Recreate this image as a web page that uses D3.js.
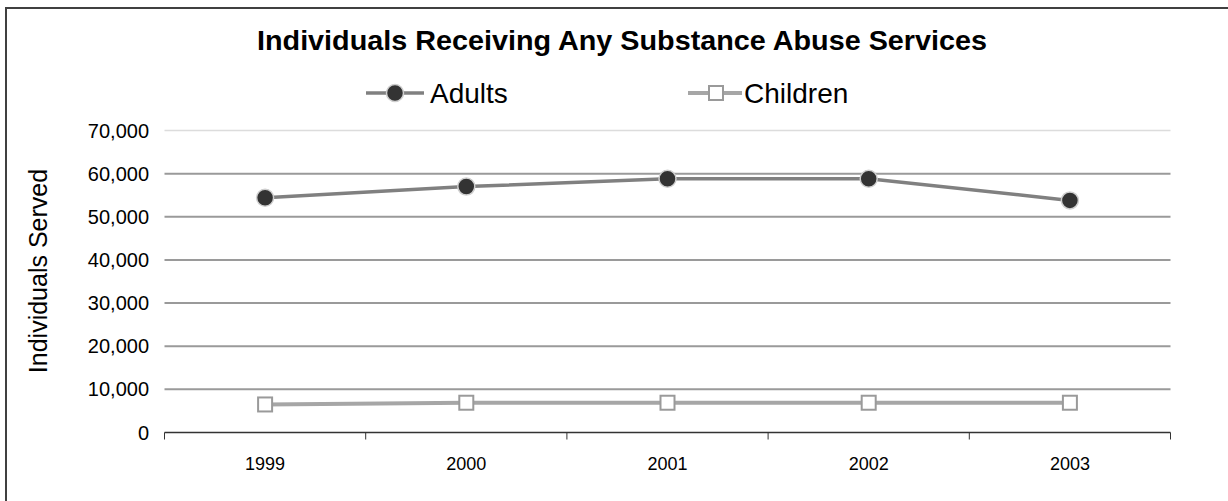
<!DOCTYPE html>
<html>
<head>
<meta charset="utf-8">
<script src="https://cdn.jsdelivr.net/npm/d3@7"></script>
<style>
  html, body { margin: 0; padding: 0; background: #fff; }
  svg { display: block; font-family: "Liberation Sans", Arial, sans-serif; }
</style>
</head>
<body>
<svg id="chart" width="1228" height="501"></svg>
<script>
// Chart data
const years = ["1999", "2000", "2001", "2002", "2003"];
const adults = [54400, 57000, 58800, 58800, 53800];
const children = [6500, 6900, 6900, 6900, 6900];
const yTicks = [0, 10000, 20000, 30000, 40000, 50000, 60000, 70000];

const svg = d3.select("#chart");

// Outer chart frame
svg.append("rect")
  .attr("x", 6).attr("y", 8)
  .attr("width", 1240).attr("height", 520)
  .attr("fill", "none").attr("stroke", "#404040").attr("stroke-width", 2);

const plot = { left: 164.5, right: 1170.5, top: 130.5, bottom: 432.5 };

const x = d3.scaleBand().domain(years).range([plot.left, plot.right]).padding(0);
const y = d3.scaleLinear().domain([0, 70000]).range([plot.bottom, plot.top]);
const cx = d => x(d) + x.bandwidth() / 2;

// Horizontal gridlines
svg.append("g").selectAll("line")
  .data(yTicks.filter(t => t > 0))
  .join("line")
  .attr("x1", plot.left).attr("x2", plot.right)
  .attr("y1", d => y(d)).attr("y2", d => y(d))
  .attr("stroke", d => d === 70000 ? "#dcdcdc" : "#9a9a9a")
  .attr("stroke-width", d => d === 70000 ? 1.5 : 2);

// Y axis tick labels
const fmt = d3.format(",");
svg.append("g").selectAll("text")
  .data(yTicks)
  .join("text")
  .attr("x", 149).attr("y", d => y(d))
  .attr("dy", "0.35em")
  .attr("text-anchor", "end")
  .attr("font-size", 20)
  .attr("fill", "#000")
  .text(d => fmt(d));

// X axis with ticks on the category boundaries
const xAxis = svg.append("g").attr("transform", `translate(0,${plot.bottom})`);
xAxis.append("line")
  .attr("x1", plot.left).attr("x2", plot.right)
  .attr("stroke", "#333").attr("stroke-width", 1.5);
const bounds = years.map(d => x(d)).concat([plot.right]);
xAxis.selectAll("line.tick")
  .data(bounds)
  .join("line").attr("class", "tick")
  .attr("x1", d => d).attr("x2", d => d)
  .attr("y1", 0).attr("y2", 7)
  .attr("stroke", "#333").attr("stroke-width", 1);
xAxis.selectAll("text")
  .data(years)
  .join("text")
  .attr("x", d => cx(d)).attr("y", 37)
  .attr("text-anchor", "middle")
  .attr("font-size", 18)
  .attr("fill", "#000")
  .text(d => d);

// Y axis title
svg.append("text")
  .attr("transform", "translate(47,271) rotate(-90)")
  .attr("text-anchor", "middle")
  .attr("font-size", 25)
  .attr("fill", "#000")
  .text("Individuals Served");

// Title
svg.append("text")
  .attr("x", 622).attr("y", 50)
  .attr("text-anchor", "middle")
  .attr("font-size", 28)
  .attr("font-weight", "bold")
  .attr("textLength", 730)
  .attr("lengthAdjust", "spacingAndGlyphs")
  .attr("fill", "#000")
  .text("Individuals Receiving Any Substance Abuse Services");

const line = d3.line().x((d, i) => cx(years[i])).y(d => y(d));

// Children series
svg.append("path")
  .datum(children)
  .attr("d", line)
  .attr("fill", "none").attr("stroke", "#a6a6a6").attr("stroke-width", 4);
svg.append("g").selectAll("rect")
  .data(children)
  .join("rect")
  .attr("x", (d, i) => cx(years[i]) - 7).attr("y", d => y(d) - 7)
  .attr("width", 14).attr("height", 14)
  .attr("fill", "#fff").attr("stroke", "#9a9a9a").attr("stroke-width", 2);

// Adults series
svg.append("path")
  .datum(adults)
  .attr("d", line)
  .attr("fill", "none").attr("stroke", "#808080").attr("stroke-width", 3.5);
svg.append("g").selectAll("circle")
  .data(adults)
  .join("circle")
  .attr("cx", (d, i) => cx(years[i])).attr("cy", d => y(d))
  .attr("r", 8.5)
  .attr("fill", "#333").attr("stroke", "#cfcfcf").attr("stroke-width", 1.5);

// Legend
const legend = svg.append("g");
const ly = 93;
legend.append("line").attr("x1", 366).attr("x2", 424).attr("y1", ly).attr("y2", ly)
  .attr("stroke", "#808080").attr("stroke-width", 3.5);
legend.append("circle").attr("cx", 395).attr("cy", ly).attr("r", 8.5)
  .attr("fill", "#333").attr("stroke", "#cfcfcf").attr("stroke-width", 1.5);
legend.append("text").attr("x", 430).attr("y", 103)
  .attr("font-size", 28).attr("fill", "#000").text("Adults");

legend.append("line").attr("x1", 688).attr("x2", 742).attr("y1", ly).attr("y2", ly)
  .attr("stroke", "#a6a6a6").attr("stroke-width", 4);
legend.append("rect").attr("x", 709).attr("y", ly - 7).attr("width", 14).attr("height", 14)
  .attr("fill", "#fff").attr("stroke", "#9a9a9a").attr("stroke-width", 2);
legend.append("text").attr("x", 744).attr("y", 103)
  .attr("font-size", 28).attr("fill", "#000").text("Children");
</script>
</body>
</html>
